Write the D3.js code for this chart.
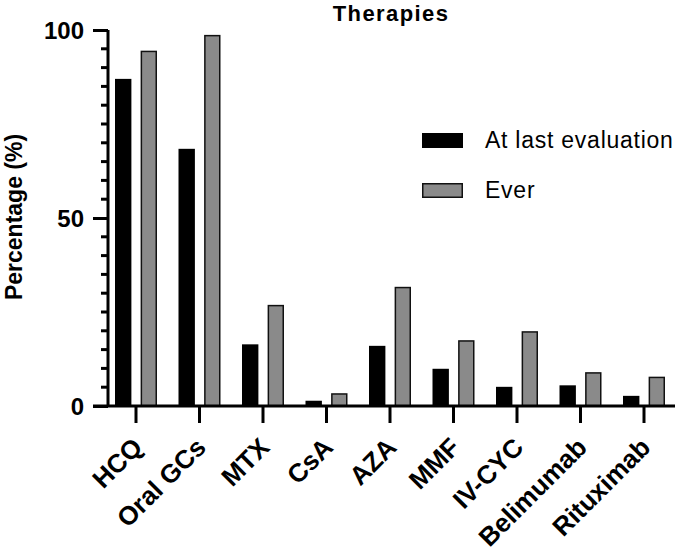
<!DOCTYPE html>
<html><head><meta charset="utf-8">
<script src="https://cdn.jsdelivr.net/npm/d3@7"></script>
<style>body{margin:0;background:#fff}svg{display:block}text{font-family:"Liberation Sans",Arial,sans-serif}</style>
</head><body>
<svg id="c" width="680" height="560"></svg>
<script>
const categories = ["HCQ","Oral GCs","MTX","CsA","AZA","MMF","IV-CYC","Belimumab","Rituximab"];
const seriesNames = ["At last evaluation","Ever"];
const lastEval = [87.0,68.4,16.4,1.4,16.0,9.9,5.1,5.5,2.7];
const ever = [94.5,98.7,26.9,3.4,31.7,17.5,19.9,9.0,7.8];
const yTicks = [0,50,100];
const colors = ["#000000","#8a8a8a"];

const svg = d3.select("#c");
const y = d3.scaleLinear().domain([0,100]).range([406,30]);
const x = d3.scaleBand().domain(categories).range([104.25,675.75]).padding(0);
const x1 = d3.scaleBand().domain(seriesNames).range([-21,21]).paddingInner(0.36);
const values = [lastEval, ever];

// bars
seriesNames.forEach((s,si)=>{
  svg.append("g").selectAll("rect").data(categories).join("rect")
    .attr("x", (c)=> x(c)+x.bandwidth()/2 + x1(s) + (si===1?0.75:0))
    .attr("width", x1.bandwidth() - (si===1?1.5:0))
    .attr("y", (c,i)=> y(values[si][i]) + (si===1?0.75:0))
    .attr("height", (c,i)=> y(0)-y(values[si][i]) - (si===1?0.75:0))
    .attr("fill", colors[si])
    .attr("stroke", si===1?"#111":"none")
    .attr("stroke-width", 1.5);
});

// y axis
const yAxis = d3.axisLeft(y).tickValues(yTicks).tickSize(15).tickFormat(d3.format("d"));
const gy = svg.append("g").attr("transform","translate(108,0)").call(yAxis);
gy.select(".domain").attr("stroke","#000").attr("stroke-width",3).attr("d","M0,30V406");
gy.selectAll(".tick line").attr("stroke","#000").attr("stroke-width",3);
gy.selectAll(".tick text").attr("font-size",24).attr("font-weight","bold").attr("fill","#000").attr("x",-24).attr("dy","0.35em");
const minor = d3.range(5,100,5).filter(v=>v%50!==0);
gy.selectAll(".minor").data(minor).join("line").attr("class","minor")
  .attr("x1",-7).attr("x2",0).attr("y1",d=>y(d)).attr("y2",d=>y(d))
  .attr("stroke","#000").attr("stroke-width",3);

// x axis
const xAxis = d3.axisBottom(x).tickSize(17).tickFormat("");
const gx = svg.append("g").attr("transform","translate(0,406)").call(xAxis);
gx.select(".domain").attr("stroke","#000").attr("stroke-width",3).attr("d","M93,0H675");
gx.selectAll(".tick line").attr("stroke","#000").attr("stroke-width",3);
gx.selectAll(".tick").append("text")
  .attr("transform","translate(8,43) rotate(-45)")
  .attr("text-anchor","end")
  .attr("font-size",26).attr("font-weight","bold").attr("fill","#000")
  .text(d=>d);

// y label
svg.append("text").attr("transform","translate(22,217) rotate(-90)")
  .attr("text-anchor","middle").attr("font-size",23).attr("font-weight","bold").text("Percentage (%)");

// title
svg.append("text").attr("x",391).attr("y",21).attr("text-anchor","middle")
  .attr("font-size",22).attr("letter-spacing",1.4).attr("font-weight","bold").text("Therapies");

// legend
const lg = svg.append("g");
seriesNames.forEach((s,i)=>{
  const yy = 133 + i*50;
  lg.append("rect").attr("x",422 + (i===1?0.75:0)).attr("y",yy + (i===1?0.75:0))
    .attr("width",41-(i===1?1.5:0)).attr("height",15-(i===1?1.5:0))
    .attr("fill",colors[i]).attr("stroke",i===1?"#111":"none").attr("stroke-width",1.5);
  lg.append("text").attr("x",485).attr("y",yy+15).attr("font-size",23)
    .attr("letter-spacing",0.75).attr("fill","#000").text(s);
});
</script>
</body></html>
